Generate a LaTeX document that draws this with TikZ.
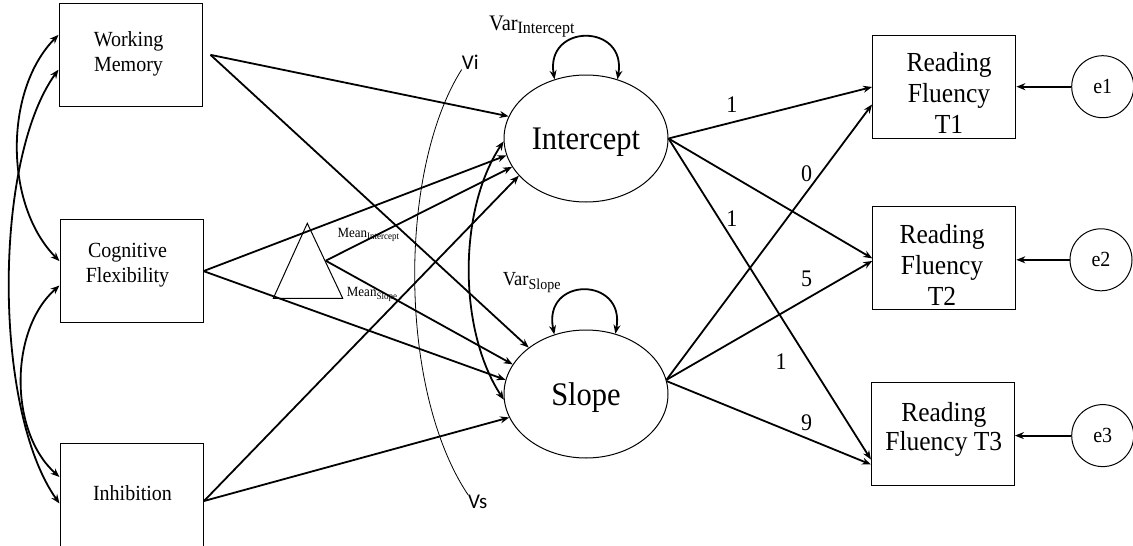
\documentclass[tikz,border=0pt]{standalone}
\usepackage{fontspec}
\setmainfont{Liberation Serif}
\newfontfamily\calfont{Carlito}
\usetikzlibrary{arrows.meta,shapes.geometric}
\newcommand\vstr[1]{\scalebox{1}[1.08]{#1}}
\begin{document}
\begin{tikzpicture}[x=1pt,y=-1pt,
  box/.style={draw,line width=1pt,minimum width=143pt,minimum height=103pt,inner sep=0pt},
  lat/.style={draw,ellipse,line width=1pt,minimum width=164pt,minimum height=127pt,inner sep=0pt,text depth=0pt,font=\fontsize{30.5}{34}\selectfont},
  err/.style={draw,circle,line width=1pt,minimum size=62pt,inner sep=0pt,font=\fontsize{20}{24}\selectfont},
  arr/.style={line width=1.8pt,-{Stealth[length=9pt,width=7pt]}},
  darr/.style={line width=1.8pt,{Stealth[length=9pt,width=7pt]}-{Stealth[length=9pt,width=7pt]}},
  txt/.style={inner sep=0pt,align=center,font=\fontsize{20}{25}\selectfont},
  rtxt/.style={inner sep=0pt,align=center,font=\fontsize{25.5}{30.8}\selectfont},
  num/.style={inner sep=0pt,font=\fontsize{22}{26}\selectfont},
  lbl/.style={inner sep=0pt,anchor=base west},
  vlab/.style={inner sep=0pt,anchor=base west,font=\calfont\fontsize{21}{25}\selectfont}
]
\useasboundingbox (0,0) rectangle (1133,546);
\clip (0,0) rectangle (1133,546);

% left boxes
\node[box,minimum width=143.5pt,minimum height=102.7pt] (wm) at (130.75,54.85) {};
\node[box,minimum height=103.4pt] (cf) at (131.5,271.1) {};
\node[box,minimum width=143.5pt,minimum height=106pt] (inh) at (131.75,496) {};
\node[txt] (wmt) at (128.5,53.5) {\vstr{Working}\\\vstr{Memory}};
\node[txt] (cft) at (127.5,265) {\vstr{Cognitive}\\\vstr{Flexibility}};
\node[txt,anchor=base] (inht) at (132.5,500) {\vstr{Inhibition}};

% latent
\node[lat] (int) at (586,138.5) {\vstr{Intercept}};
\node[lat,minimum height=128pt] (slope) at (586,394) {\vstr{Slope}};

% right boxes
\node[box,minimum width=143.3pt] (t1) at (944.2,87) {};
\node[box] (t2) at (944.3,258.4) {};
\node[box] (t3) at (942.9,433.5) {};
\node[rtxt] (t1t) at (949,92.7) {\vstr{Reading}\\\vstr{Fluency}\\\vstr{T1}};
\node[rtxt] (t2t) at (942,265) {\vstr{Reading}\\\vstr{Fluency}\\\vstr{T2}};
\node[rtxt,font=\fontsize{25.5}{29.8}\selectfont] (t3t) at (943.8,429.5) {\vstr{Reading}\\\vstr{Fluency T3}};

% errors
\node[err] (e1) at (1102.7,86.7) {\vstr{e1}};
\node[err] (e2) at (1101,259.8) {\vstr{e2}};
\node[err] (e3) at (1102.7,435.6) {\vstr{e3}};
\draw[arr] (e1.west) -- (t1.east |- e1.west);
\draw[arr] (e2.west) -- (t2.east |- e2.west);
\draw[arr] (e3.west) -- (t3.east |- e3.west);

% triangle (constant)
\draw[line width=1pt] (307.3,223.3) -- (273.3,298.3) -- (342.7,298.3) -- cycle;
\coordinate (tri) at (325.7,260.7);

% predictors to growth factors
\draw[arr] ([xshift=7.5pt]wm.east) -- (int.164.9);
\draw[arr] ([xshift=7.5pt]wm.east) -- (slope.141.7);
\draw[arr] (cf.east) -- (int.192.7);
\draw[arr] (cf.east) -- (slope.170.5);
\draw[arr] (tri) -- (int.201.6);
\draw[arr] (tri) -- (slope.158.8);
\draw[arr] ([yshift=-5pt]inh.east) -- (int.209.1);
\draw[arr] ([yshift=-5pt]inh.east) -- (slope.197.2);

% growth factors to outcomes
\draw[arr] (int.east) -- (t1.west);
\draw[arr] (int.east) -- (t2.west);
\draw[arr] (int.east) -- ([yshift=-26pt]t3.west);
\draw[arr] (slope.10) -- ([yshift=-17.5pt]t1.west);
\draw[arr] (slope.10) -- ([yshift=-2.5pt]t2.west);
\draw[arr] (slope.9) -- ([yshift=-31pt]t3.west);

% loading labels
\node[num] (l1) at (731.8,104.5) {\vstr{1}};
\node[num] (l2) at (806.7,174) {\vstr{0}};
\node[num] (l3) at (731.8,218.7) {\vstr{1}};
\node[num] (l4) at (806.7,278.5) {\vstr{5}};
\node[num] (l5) at (781,362) {\vstr{1}};
\node[num] (l6) at (806.7,423) {\vstr{9}};

% covariances left
\draw[darr] ([yshift=20pt]wm.west) .. controls (4,90) and (4,205) .. ([yshift=10pt]cf.west);
\draw[darr] ([yshift=-14.75pt]wm.west) .. controls (-7,160) and (-7,410) .. ([yshift=-7.5pt]inh.west);
\draw[darr] ([yshift=-14.4pt]cf.west) .. controls (9,330) and (9,432) .. ([yshift=19pt]inh.west);

% intercept-slope covariance and variances
\draw[darr] (int.182) .. controls (458,210) and (458,330) .. (slope.184.5);
\draw[darr] (int.118.3) .. controls (545,23) and (627,23) .. (int.62.7);
\draw[darr] (slope.118.8) .. controls (542,276) and (626,276) .. (slope.64.5);

% labels
\node[lbl] (vari) at (489,30.7) {\vstr{\fontsize{20.5}{24}\selectfont Var\raisebox{-3pt}{\fontsize{16}{18}\selectfont Intercept}}};
\node[lbl] (vars) at (502.7,285) {\vstr{\fontsize{18.5}{22}\selectfont Var\raisebox{-4pt}{\fontsize{14}{16}\selectfont Slope}}};
\node[lbl] (mi) at (337.3,237.3) {\vstr{\fontsize{13}{15}\selectfont Mean\raisebox{-2pt}{\fontsize{9}{10}\selectfont Intercept}}};
\node[lbl] (ms) at (346.7,296) {\vstr{\fontsize{13}{15}\selectfont Mean\raisebox{-3pt}{\fontsize{9}{10}\selectfont Slope}}};

% Vi / Vs
\node[vlab] (vi) at (461.7,69.3) {Vi};
\node[vlab] (vs) at (468,508.4) {Vs};
\draw[line width=0.8pt] (vi.south west) .. controls (398,170) and (398,390) .. (vs.north west);
\end{tikzpicture}
\end{document}
